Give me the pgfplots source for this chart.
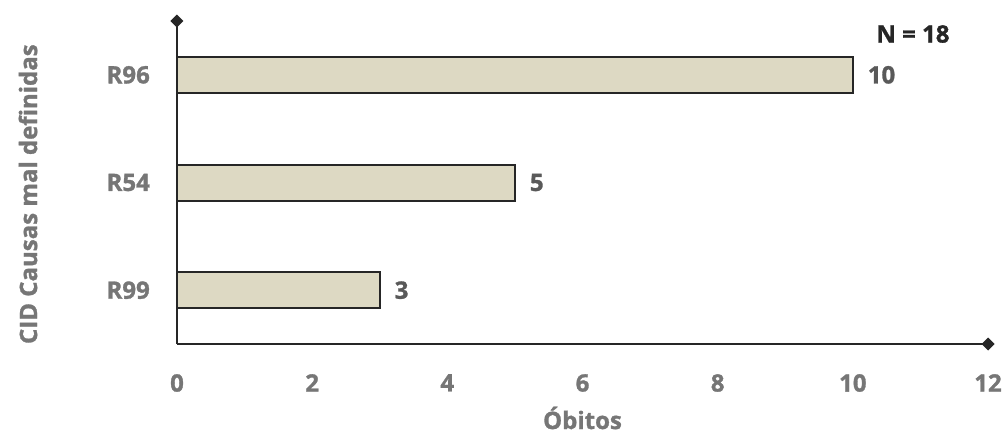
\documentclass[border=0pt]{standalone}
\usepackage{pgfplots}
\pgfplotsset{compat=1.18}
\usetikzlibrary{arrows.meta}
\usepackage{fontspec}
\setmainfont{Open Sans}[BoldFeatures={FakeBold=1.2}]
\definecolor{barfill}{HTML}{DDD9C3}
\definecolor{axcol}{HTML}{262626}
\definecolor{ticcol}{HTML}{767676}
\definecolor{labcol}{HTML}{595959}
\begin{document}
\begin{tikzpicture}
\begin{axis}[
  scale only axis,
  width=811pt, height=323pt,
  xbar,
  bar width=36pt,
  xmin=0, xmax=12,
  ymin=-0.5, ymax=2.5,
  axis x line*=bottom,
  axis y line*=left,
  x axis line style={line width=2pt, color=axcol, shorten >=-6.5pt, -{Diamond[length=13pt,width=13pt]}},
  y axis line style={line width=2pt, color=axcol, shorten >=-6.5pt, -{Diamond[length=13pt,width=13pt]}},
  major tick length=0pt,
  xtick={0,2,4,6,8,10,12},
  ytick={0,1,2},
  yticklabels={R99,R54,R96},
  tick label style={font=\fontsize{24}{28}\selectfont\bfseries, text=ticcol},
  /pgf/number format/assume math mode=true,
  xticklabel style={inner sep=0pt, yshift=-30pt},
  yticklabel style={inner sep=0pt, xshift=-27pt},
  xlabel={Óbitos},
  ylabel={CID Causas mal definidas},
  every axis x label/.style={at={(axis description cs:0.5,-0.229)}, anchor=center, font=\fontsize{24}{28}\selectfont\bfseries, text=ticcol},
  every axis y label/.style={at={(axis description cs:-0.1837,0.464)}, anchor=center, rotate=90, font=\fontsize{24}{28}\selectfont\bfseries, text=ticcol},
  nodes near coords,
  every node near coord/.append style={anchor=west, inner sep=0pt, xshift=14pt, font=\fontsize{24}{28}\selectfont\bfseries, text=labcol},
  clip=false,
]
\addplot[fill=barfill, draw=axcol, line width=2pt] coordinates {(3,0) (5,1) (10,2)};
\node[font=\fontsize{24}{28}\selectfont\bfseries, text=axcol, anchor=center] at (axis cs:10.89,2.379) {N = 18};
\end{axis}
\pgfresetboundingbox
\useasboundingbox (-177pt,-93pt) rectangle (830pt,344pt);
\end{tikzpicture}
\end{document}
